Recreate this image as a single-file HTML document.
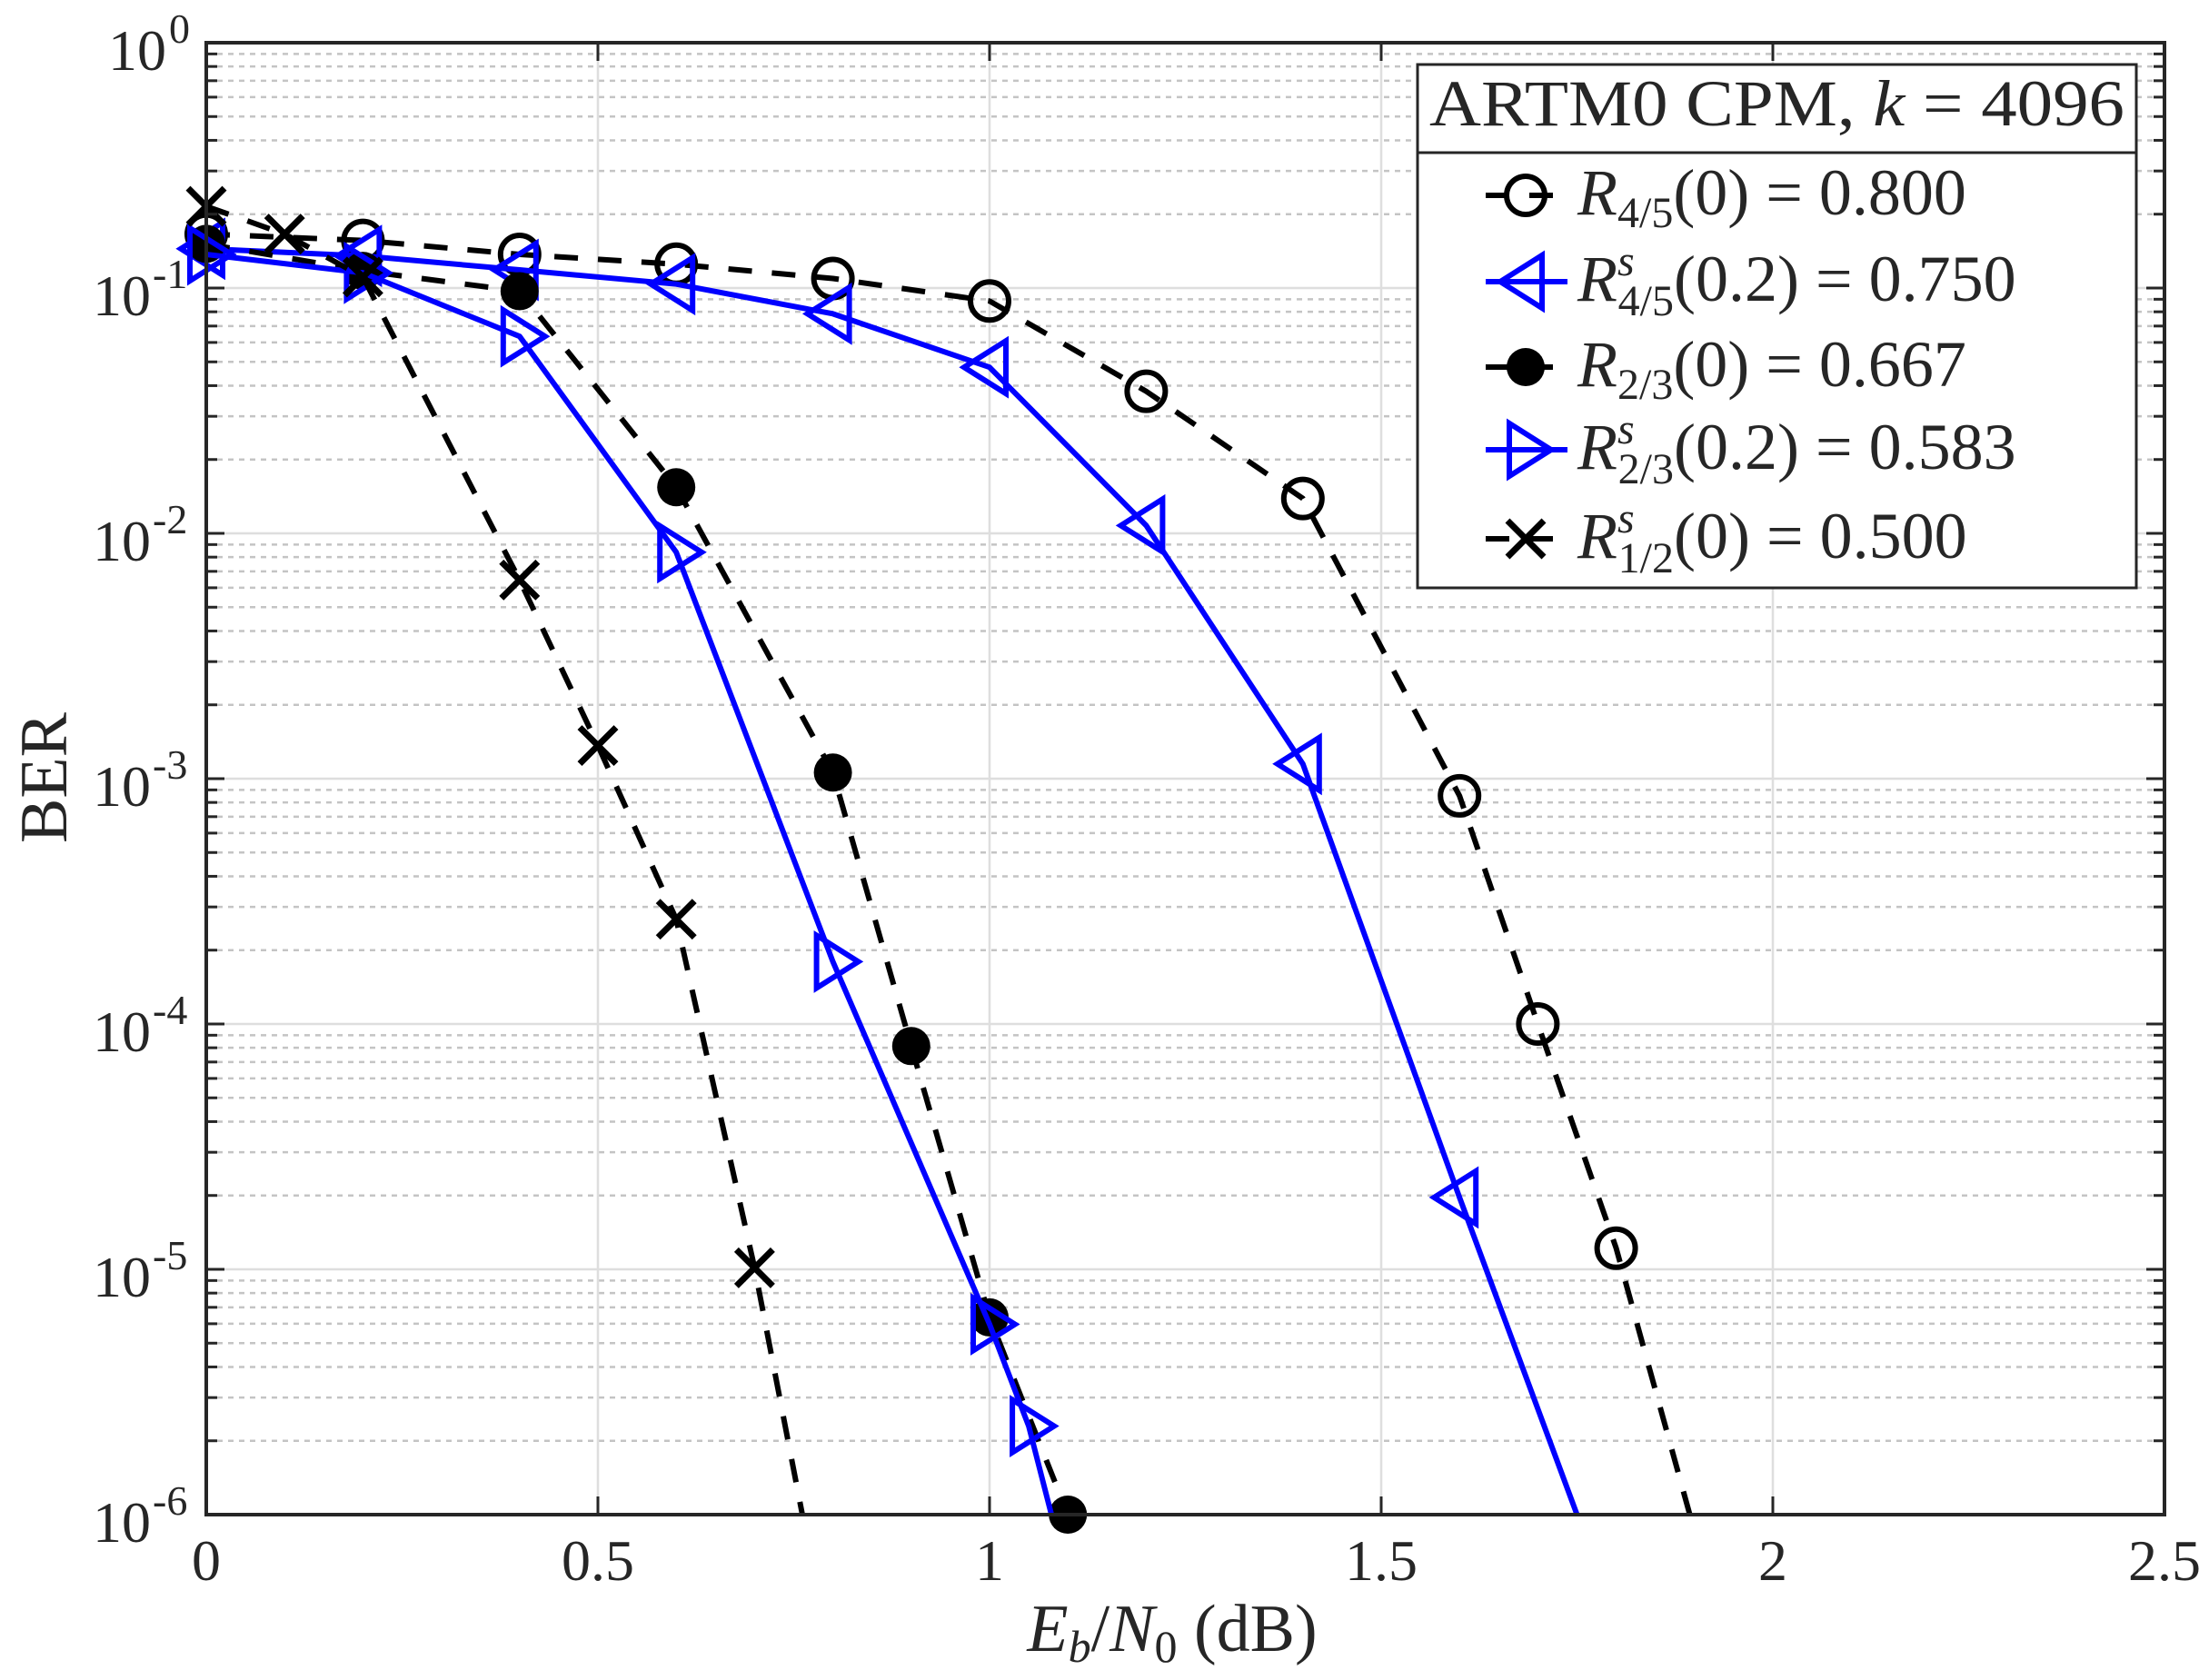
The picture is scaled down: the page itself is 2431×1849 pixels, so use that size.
<!DOCTYPE html>
<html><head><meta charset="utf-8"><style>
html,body{margin:0;padding:0;background:#fff;}
svg{display:block;}
text{font-family:"Liberation Serif","DejaVu Serif",serif;fill:#262626;}
</style></head><body>
<svg id="s" width="2431" height="1849" viewBox="0 0 2431 1849" xmlns="http://www.w3.org/2000/svg">
<rect x="0" y="0" width="2431" height="1849" fill="#fff"/>
<g id="grid"></g>
<g id="series"></g>
<rect x="227" y="47" width="2155" height="1620" fill="none" stroke="#262626" stroke-width="4"/>
<g id="ticks"></g>
<g font-size="64" text-anchor="end">
<text x="183" y="77">10</text><text x="166" y="347">10</text><text x="166" y="617">10</text><text x="166" y="887">10</text><text x="166" y="1157">10</text><text x="166" y="1427">10</text><text x="166" y="1697">10</text>
</g>
<g font-size="46">
<text x="186" y="47">0</text><text x="168" y="317">-1</text><text x="168" y="587">-2</text><text x="168" y="857">-3</text><text x="168" y="1127">-4</text><text x="168" y="1397">-5</text><text x="168" y="1667">-6</text>
</g>
<g font-size="64" text-anchor="middle">
<text x="227" y="1739">0</text><text x="658" y="1739">0.5</text><text x="1089" y="1739">1</text><text x="1520" y="1739">1.5</text><text x="1951" y="1739">2</text><text x="2382" y="1739">2.5</text>
</g>
<text x="1290" y="1817" font-size="74" text-anchor="middle"><tspan font-style="italic">E</tspan><tspan font-style="italic" font-size="50" dy="12">b</tspan><tspan dy="-12">/</tspan><tspan font-style="italic">N</tspan><tspan font-size="50" dy="12">0</tspan><tspan dy="-12"> (dB)</tspan></text>
<text transform="translate(73,856) rotate(-90)" font-size="74" text-anchor="middle">BER</text>
<rect x="1560" y="71" width="791" height="576" fill="#fff" stroke="#262626" stroke-width="3"/>
<line x1="1560" y1="168" x2="2351" y2="168" stroke="#262626" stroke-width="3"/>
<text x="1573" y="138" font-size="72" fill="#000" textLength="765" lengthAdjust="spacingAndGlyphs">ARTM0 CPM, <tspan font-style="italic">k</tspan> = 4096</text>
<g id="leg"></g>
<g font-size="72" fill="#000">
<text x="1736" y="236" fill="#000"><tspan font-style="italic">R</tspan><tspan font-size="48" dy="14">4/5</tspan><tspan dy="-14">(0) = 0.800</tspan></text>
<text x="1736" y="331" fill="#000"><tspan font-style="italic">R</tspan><tspan font-size="48" font-style="italic" dy="-28">s</tspan><tspan font-size="48" dx="-18" dy="44">4/5</tspan><tspan dy="-16">(0.2) = 0.750</tspan></text>
<text x="1736" y="425" fill="#000"><tspan font-style="italic">R</tspan><tspan font-size="48" dy="14">2/3</tspan><tspan dy="-14">(0) = 0.667</tspan></text>
<text x="1736" y="516" fill="#000"><tspan font-style="italic">R</tspan><tspan font-size="48" font-style="italic" dy="-28">s</tspan><tspan font-size="48" dx="-18" dy="44">2/3</tspan><tspan dy="-16">(0.2) = 0.583</tspan></text>
<text x="1736" y="614" fill="#000"><tspan font-style="italic">R</tspan><tspan font-size="48" font-style="italic" dy="-28">s</tspan><tspan font-size="48" dx="-18" dy="44">1/2</tspan><tspan dy="-16">(0) = 0.500</tspan></text>
</g>
</svg>
<script>
(function(){
var NS="http://www.w3.org/2000/svg";
function el(p,t,a){var e=document.createElementNS(NS,t);for(var k in a)e.setAttribute(k,a[k]);p.appendChild(e);return e;}
var L=227,R=2382,T=47,B=1667,D=270;
function X(x){return L+x*(R-L)/2.5;}
function Y(l){return T+l*D;}
var g=document.getElementById('grid'),tk=document.getElementById('ticks');
for(var d=0;d<6;d++){for(var m=2;m<=9;m++){var y=T+(d+1-Math.log10(m))*D;
 el(g,'line',{x1:L,x2:R,y1:y,y2:y,stroke:'#c4c4c4','stroke-width':2.5,'stroke-dasharray':'6 6'});
 el(tk,'line',{x1:L,x2:L+12,y1:y,y2:y,stroke:'#262626','stroke-width':3});
 el(tk,'line',{x1:R-12,x2:R,y1:y,y2:y,stroke:'#262626','stroke-width':3});}}
for(var d=1;d<6;d++){var y=T+d*D;el(g,'line',{x1:L,x2:R,y1:y,y2:y,stroke:'#dedede','stroke-width':2.5});
 el(tk,'line',{x1:L,x2:L+20,y1:y,y2:y,stroke:'#262626','stroke-width':3});el(tk,'line',{x1:R-20,x2:R,y1:y,y2:y,stroke:'#262626','stroke-width':3});}
for(var i=1;i<5;i++){var x=X(i*0.5);el(g,'line',{x1:x,x2:x,y1:T,y2:B,stroke:'#dedede','stroke-width':2.5});
 el(tk,'line',{x1:x,x2:x,y1:B-20,y2:B,stroke:'#262626','stroke-width':3});el(tk,'line',{x1:x,x2:x,y1:T,y2:T+20,stroke:'#262626','stroke-width':3});}
function marker(p,type,cx,cy,col){
 if(type=='o')el(p,'circle',{cx:cx,cy:cy,r:21,fill:'none',stroke:col,'stroke-width':6});
 else if(type=='f')el(p,'circle',{cx:cx,cy:cy,r:21,fill:col});
 else if(type=='<')el(p,'polygon',{points:(cx-28)+','+cy+' '+(cx+18)+','+(cy-29)+' '+(cx+18)+','+(cy+29),fill:'none',stroke:col,'stroke-width':6});
 else if(type=='>')el(p,'polygon',{points:(cx+28)+','+cy+' '+(cx-18)+','+(cy-29)+' '+(cx-18)+','+(cy+29),fill:'none',stroke:col,'stroke-width':6});
 else if(type=='x'){el(p,'line',{x1:cx-20,y1:cy-20,x2:cx+20,y2:cy+20,stroke:col,'stroke-width':7});el(p,'line',{x1:cx-20,y1:cy+20,x2:cx+20,y2:cy-20,stroke:col,'stroke-width':7});}
}
var S=[
 {t:'o',c:'#000',dash:true,d:[[0,.78],[.2,.806],[.4,.863],[.6,.903],[.8,.961],[1,1.053],[1.2,1.421],[1.4,1.858],[1.6,3.07],[1.7,4.0],[1.8,4.914]],end:[1.894,6]},
 {t:'<',c:'#0000ff',dash:false,d:[[0,.84],[.2,.869],[.4,.926],[.6,.984],[.8,1.105],[1,1.323],[1.2,1.968],[1.4,2.94],[1.6,4.707]],end:[1.75,6]},
 {t:'f',c:'#000',dash:true,d:[[0,.82],[.2,.93],[.4,1.013],[.6,1.812],[.8,2.975],[.9,4.09],[1,5.196],[1.1,6]]},
 {t:'>',c:'#0000ff',dash:false,d:[[0,.863],[.2,.938],[.4,1.197],[.6,2.077],[.8,3.746],[1,5.224],[1.05,5.639]],end:[1.079,6]},
 {t:'x',c:'#000',dash:true,d:[[0,.667],[.1,.78],[.2,.955],[.4,2.19],[.5,2.865],[.6,3.573],[.7,4.994]],end:[.761,6]}
];
var sg=document.getElementById('series'),lg=document.getElementById('leg');
var rows=[215,310,404,495,593];
S.forEach(function(s,i){
 var pts=s.d.slice();if(s.end)pts.push(s.end);
 var a={points:pts.map(function(p){return X(p[0])+','+Y(p[1]);}).join(' '),fill:'none',stroke:s.c,'stroke-width':6,'stroke-linejoin':'round'};
 if(s.dash)a['stroke-dasharray']='26 22';
 el(sg,'polyline',a);
 s.d.forEach(function(p){marker(sg,s.t,X(p[0]),Y(p[1]),s.c);});
 var la={x1:1635,x2:1725,y1:rows[i],y2:rows[i],stroke:s.c,'stroke-width':6};
 if(s.dash)la['stroke-dasharray']='26 22';
 el(lg,'line',la);marker(lg,s.t,1679,rows[i],s.c);
});
})();
</script>
</body></html>
